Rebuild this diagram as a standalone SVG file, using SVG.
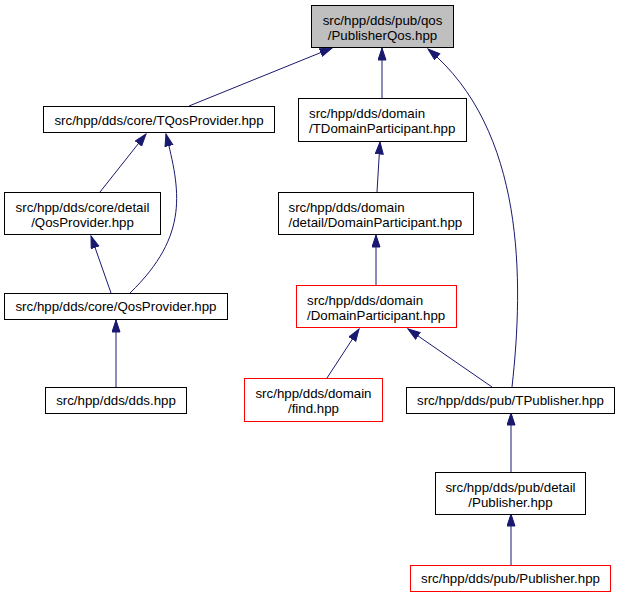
<svg xmlns="http://www.w3.org/2000/svg" width="620" height="600" viewBox="0 0 620 600">
<style>
  .box { fill: #ffffff; stroke: #000000; stroke-width: 1; }
  .root { fill: #bfbfbf; stroke: #000000; stroke-width: 1; }
  .red { fill: #ffffff; stroke: #ff0000; stroke-width: 1; }
  text { font-family: "Liberation Sans", Arial, sans-serif; font-size: 13.3px; fill: #000000; }
  .c { text-anchor: middle; }
  .l { text-anchor: start; }
  .edge { fill: none; stroke: #191970; stroke-width: 1; marker-end: url(#arrow); }
</style>
<defs>
  <marker id="arrow" markerUnits="userSpaceOnUse" markerWidth="14" markerHeight="11" refX="12.5" refY="4.5" orient="auto">
    <path d="M0.5,0.5 L12.5,4.5 L0.5,8.5 Z" fill="#191970" stroke="#191970" stroke-width="1"/>
  </marker>
</defs>
<rect width="620" height="600" fill="#ffffff"/>
<g id="connectors">
  <path class="edge" d="M189,106 L332,48"/>
  <path class="edge" d="M382,98 L382,48"/>
  <path class="edge" d="M512,387 C524,280 525,130 428,49"/>
  <path class="edge" d="M100,192 L146,134"/>
  <path class="edge" d="M130,293 C190,235 180,190 166,134"/>
  <path class="edge" d="M111,293 L91,236"/>
  <path class="edge" d="M116,387 L116,320"/>
  <path class="edge" d="M377,192 L380,142"/>
  <path class="edge" d="M376,285 L376,235"/>
  <path class="edge" d="M327,378 L359,329"/>
  <path class="edge" d="M492,387 L408,329"/>
  <path class="edge" d="M511,472 L511,413"/>
  <path class="edge" d="M511,565 L511,514"/>
</g>
<g id="node-root">
  <rect class="root" x="311.5" y="5.5" width="142" height="42"/>
  <text class="c" x="382.5" y="25">src/hpp/dds/pub/qos</text>
  <text class="c" x="382.5" y="40">/PublisherQos.hpp</text>
</g>
<g id="node-tqosprovider">
  <rect class="box" x="43.5" y="106.5" width="231" height="26"/>
  <text class="c" x="159" y="124.5">src/hpp/dds/core/TQosProvider.hpp</text>
</g>
<g id="node-tdomainparticipant">
  <rect class="box" x="298.5" y="98.5" width="168" height="43"/>
  <text class="l" x="309" y="118">src/hpp/dds/domain</text>
  <text class="l" x="309" y="133">/TDomainParticipant.hpp</text>
</g>
<g id="node-detail-qosprovider">
  <rect class="box" x="4.5" y="192.5" width="156" height="42"/>
  <text class="c" x="82.5" y="212">src/hpp/dds/core/detail</text>
  <text class="c" x="82.5" y="227">/QosProvider.hpp</text>
</g>
<g id="node-detail-domainparticipant">
  <rect class="box" x="278.5" y="192.5" width="195" height="42"/>
  <text class="l" x="288.5" y="212">src/hpp/dds/domain</text>
  <text class="l" x="288.5" y="227">/detail/DomainParticipant.hpp</text>
</g>
<g id="node-domainparticipant">
  <rect class="red" x="296.5" y="285.5" width="160" height="42"/>
  <text class="l" x="307" y="305">src/hpp/dds/domain</text>
  <text class="l" x="307" y="320">/DomainParticipant.hpp</text>
</g>
<g id="node-qosprovider">
  <rect class="box" x="4.5" y="293.5" width="223" height="26"/>
  <text class="c" x="116" y="311">src/hpp/dds/core/QosProvider.hpp</text>
</g>
<g id="node-dds">
  <rect class="box" x="45.5" y="387.5" width="141" height="26"/>
  <text class="c" x="116" y="405">src/hpp/dds/dds.hpp</text>
</g>
<g id="node-find">
  <rect class="red" x="244.5" y="378.5" width="138" height="43"/>
  <text class="c" x="313.5" y="398">src/hpp/dds/domain</text>
  <text class="c" x="313.5" y="413">/find.hpp</text>
</g>
<g id="node-tpublisher">
  <rect class="box" x="406.5" y="387.5" width="208" height="26"/>
  <text class="c" x="510.5" y="405">src/hpp/dds/pub/TPublisher.hpp</text>
</g>
<g id="node-detail-publisher">
  <rect class="box" x="435.5" y="472.5" width="150" height="42"/>
  <text class="c" x="510.5" y="492">src/hpp/dds/pub/detail</text>
  <text class="c" x="510.5" y="507">/Publisher.hpp</text>
</g>
<g id="node-publisher">
  <rect class="red" x="410.5" y="565.5" width="200" height="26"/>
  <text class="c" x="510.5" y="583">src/hpp/dds/pub/Publisher.hpp</text>
</g>
</svg>
